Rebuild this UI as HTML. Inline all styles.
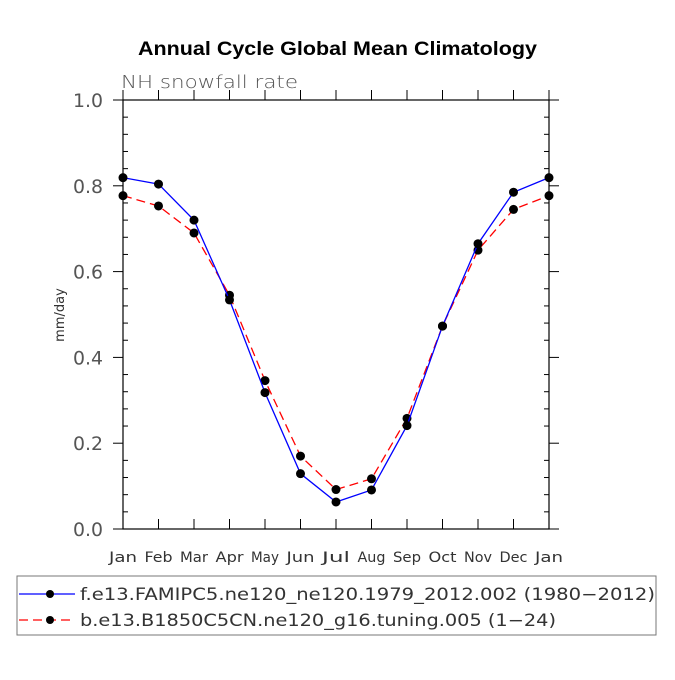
<!DOCTYPE html>
<html><head><meta charset="utf-8"><style>
body{margin:0;background:#fff}
svg text{font-family:"DejaVu Sans","Liberation Sans",sans-serif}
</style></head><body>
<svg id="chart" width="675" height="675" viewBox="0 0 675 675">
<text x="138" y="55" textLength="399" lengthAdjust="spacingAndGlyphs" font-size="19" font-weight="bold" fill="#000" style="font-family:'Liberation Sans',sans-serif">Annual Cycle Global Mean Climatology</text>
<text x="121" y="88" textLength="177" lengthAdjust="spacingAndGlyphs" font-size="18" fill="#555" font-weight="300">NH snowfall rate</text>
<text transform="translate(64,315) rotate(-90)" text-anchor="middle" font-size="13" fill="#333">mm/day</text>
<g id="axes"></g>
<g id="series"></g>
<rect x="17" y="576" width="639" height="59" fill="none" stroke="#777" stroke-width="1"/>
<g>
<line x1="19" y1="594" x2="75" y2="594" stroke="#00f" stroke-width="1.3"/>
<circle cx="50" cy="594" r="4" fill="#000"/>
<text x="80" y="600" textLength="575" lengthAdjust="spacingAndGlyphs" font-size="17" fill="#333">f.e13.FAMIPC5.ne120_ne120.1979_2012.002 (1980−2012)</text>
</g>
<g>
<line x1="19" y1="620" x2="75" y2="620" stroke="#f00" stroke-width="1.3" stroke-dasharray="9,5"/>
<circle cx="50" cy="620" r="4" fill="#000"/>
<text x="80" y="626" textLength="476" lengthAdjust="spacingAndGlyphs" font-size="17" fill="#333">b.e13.B1850C5CN.ne120_g16.tuning.005 (1−24)</text>
</g>
</svg>
<script>
const months=["Jan","Feb","Mar","Apr","May","Jun","Jul","Aug","Sep","Oct","Nov","Dec","Jan"];
const blueValues=[0.819,0.804,0.720,0.534,0.318,0.129,0.063,0.091,0.241,0.473,0.665,0.785,0.819];
const redValues=[0.777,0.753,0.690,0.545,0.346,0.170,0.092,0.117,0.258,0.473,0.650,0.745,0.777];
const yTicks=["0.0","0.2","0.4","0.6","0.8","1.0"];
const L=123,R=549,T=100,B=529;
const ns="http://www.w3.org/2000/svg";
const xs=i=>L+(R-L)*i/(months.length-1);
const ys=v=>B-(B-T)*v;
function mk(tag,attrs,parent){const e=document.createElementNS(ns,tag);for(const k in attrs)e.setAttribute(k,attrs[k]);parent.appendChild(e);return e;}
const ax=document.getElementById('axes');
const frame=mk('rect',{x:L,y:T,width:R-L,height:B-T,fill:'none',stroke:'#000','stroke-width':1.2},ax);


for(let i=0;i<=25;i++){
  const v=i*0.04;const y=ys(v);const major=i%5===0;
  if(major){
    mk('line',{x1:L-10,y1:y,x2:L,y2:y,stroke:'#000'},ax);
    mk('line',{x1:R,y1:y,x2:R+10,y2:y,stroke:'#000'},ax);
    const t=mk('text',{x:L-20,y:y+7,'text-anchor':'end','font-size':19,fill:'#555',textLength:30,lengthAdjust:'spacingAndGlyphs'},ax);
    t.textContent=yTicks[i/5];
    
    
  }else{
    mk('line',{x1:L,y1:y,x2:L+5,y2:y,stroke:'#000'},ax);
    mk('line',{x1:R-5,y1:y,x2:R,y2:y,stroke:'#000'},ax);
  }
}
months.forEach((m,i)=>{
  const x=xs(i);
  mk('line',{x1:x,y1:T,x2:x,y2:T-10,stroke:'#000'},ax);
  mk('line',{x1:x,y1:B,x2:x,y2:B-10,stroke:'#000'},ax);
  const t=mk('text',{x:x,y:B+33,'text-anchor':'middle','font-size':14,fill:'#333',textLength:28,lengthAdjust:'spacingAndGlyphs'},ax);
  t.textContent=m;
  
  
});
const sg=document.getElementById('series');
function draw(vals,color,dash,name){
  const g=mk('g',{},sg);
  
  
  const pts=vals.map((v,i)=>xs(i)+','+ys(v)).join(' ');
  const a={points:pts,fill:'none',stroke:color,'stroke-width':1.3};
  if(dash)a['stroke-dasharray']=dash;
  mk('polyline',a,g);
  vals.forEach((v,i)=>{
    const c=mk('circle',{cx:xs(i),cy:ys(v),r:4.5,fill:'#000'},g);
    
    
  });
}
draw(redValues,'#f00','9,5','series-red');
draw(blueValues,'#00f',null,'series-blue');
</script>
</body></html>
